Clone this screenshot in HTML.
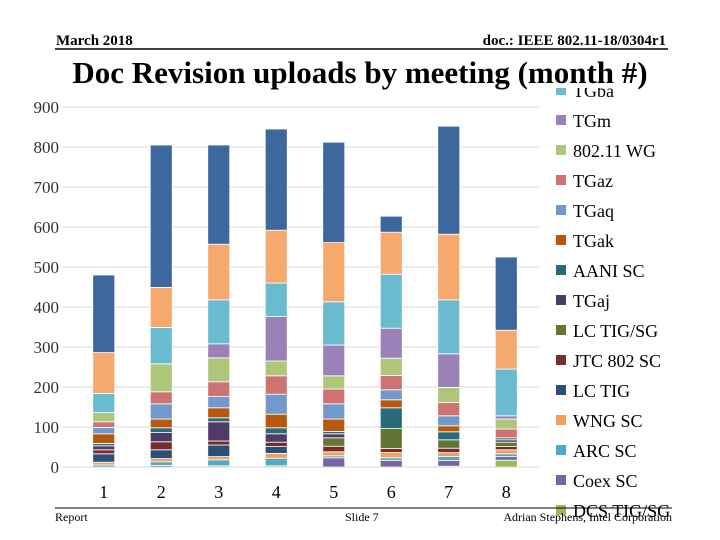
<!DOCTYPE html>
<html><head><meta charset="utf-8"><style>
body{margin:0;background:#fff;}
svg{display:block;font-family:"Liberation Serif",serif;}
</style></head><body>
<svg id="chart" width="720" height="540" viewBox="0 0 720 540">
<g>
<text x="56" y="45" font-size="15" font-weight="bold">March 2018</text>
<text x="666" y="45" font-size="15" font-weight="bold" text-anchor="end">doc.: IEEE 802.11-18/0304r1</text>
<line x1="55" y1="49" x2="668" y2="49" stroke="#000" stroke-width="1.5"/>
</g>
<g id="grid"></g>
<g id="yaxis"></g>
<g id="bars"></g>
<g id="xaxis"></g>
<defs><clipPath id="lc"><rect x="540" y="88" width="180" height="434"/></clipPath></defs>
<g id="legend" clip-path="url(#lc)"></g>
<text x="360" y="83" font-size="31" font-weight="bold" text-anchor="middle">Doc Revision uploads by meeting (month #)</text>
<g>
<line x1="55" y1="508" x2="672" y2="508" stroke="#000" stroke-width="1"/>
<text x="55" y="521" font-size="12">Report</text>
<text x="345" y="521" font-size="12">Slide 7</text>
<text x="672" y="521" font-size="12" text-anchor="end">Adrian Stephens, Intel Corporation</text>
</g>
</svg>
<script>
const categories = ["1","2","3","4","5","6","7","8"];
const yTicks = [0,100,200,300,400,500,600,700,800,900];
// series bottom -> top
const seriesNames = ["DCS TIG/SG","Coex SC","ARC SC","WNG SC","LC TIG","JTC 802 SC","LC TIG/SG","TGaj","AANI SC","TGak","TGaq","TGaz","802.11 WG","TGm","TGba","TGay","TGax"];
const seriesColors = ["#9BBB59","#7D62A2","#4FAAC2","#F2A062","#2C4F77","#772D2C","#617634","#4E3C66","#2A6B7B","#B8580E","#7199CB","#CD7473","#ADC67A","#9A82B8","#6BBBD0","#F6A96C","#3C689E"];
const sDCS   = [0,0,0,0,0,0,2,17];
const sCoex  = [0,4,3,3,23,16,14,9];
const sARC   = [5,9,15,19,5,7,10,7];
const sWNG   = [7,8,8,12,10,13,10,10];
const sLCTIG = [21,22,29,17,0,0,0,0];
const sJTC   = [10,20,10,11,14,10,11,8];
const sLCSG  = [0,0,0,0,21,50,21,11];
const sTGaj  = [10,23,48,21,10,0,0,6];
const sAANI  = [6,12,10,15,6,52,20,5];
const sTGak  = [24,22,25,34,31,20,15,0];
const sTGaq  = [16,38,28,50,38,25,25,0];
const sTGaz  = [14,30,37,46,37,36,33,22];
const sWG    = [23,70,60,37,33,43,38,25];
const sTGm   = [0,0,35,111,77,75,84,8];
const sTGba  = [48,91,110,84,108,135,135,117];
const sTGay  = [102,100,139,132,148,105,164,97];
const sTGax  = [194,356,248,253,251,40,270,183];
const seriesValues = [sDCS,sCoex,sARC,sWNG,sLCTIG,sJTC,sLCSG,sTGaj,sAANI,sTGak,sTGaq,sTGaz,sWG,sTGm,sTGba,sTGay,sTGax];

const NS="http://www.w3.org/2000/svg";
const plotL=75, plotR=535, y0=467, pxPerUnit=0.4, barW=22;
const band=(plotR-plotL)/categories.length;
function xC(i){return plotL+band*(i+0.5);}
function yS(v){return y0-v*pxPerUnit;}
function mk(tag,attrs,parent){const e=document.createElementNS(NS,tag);for(const k in attrs)e.setAttribute(k,attrs[k]);parent.appendChild(e);return e;}

const grid=document.getElementById('grid'), yaxis=document.getElementById('yaxis');
yTicks.forEach(t=>{
  if(t>0){const l=mk('line',{x1:62,x2:plotR+5,y1:yS(t),y2:yS(t),stroke:'#d9d9d9','stroke-width':1},grid);
  
  }
  const tx=mk('text',{x:59,y:yS(t)+6,'font-size':17,'text-anchor':'end',fill:'#333'},yaxis);
  tx.textContent=t;
  
  
});
const xaxis=document.getElementById('xaxis');
const ax=mk('line',{x1:62,x2:plotR+5,y1:y0,y2:y0,stroke:'#d9d9d9','stroke-width':1},xaxis);


categories.forEach((c,i)=>{
  const tx=mk('text',{x:xC(i),y:498,'font-size':18,'text-anchor':'middle'},xaxis);
  tx.textContent=c;
  
  
});
const bars=document.getElementById('bars');
categories.forEach((c,i)=>{
  let cum=0;
  seriesValues.forEach((arr,s)=>{
    const v=arr[i]; if(!v){return;}
    const r=mk('rect',{x:xC(i)-barW/2,y:yS(cum+v),width:barW,height:v*pxPerUnit,fill:seriesColors[s],stroke:'#fff','stroke-width':0.8},bars);
    
    
    cum+=v;
  });
});
const legend=document.getElementById('legend');
for(let s=seriesNames.length-1,row=0;s>=0;s--,row++){
  const y=91+(row-2)*30;
  const g=mk('g',{},legend);
  
  
  mk('rect',{x:556,y:y-6,width:10,height:10,fill:seriesColors[s]},g);
  const t=mk('text',{x:573,y:y+6,'font-size':18},g);
  t.textContent=seriesNames[s];
}
</script>
</body></html>
